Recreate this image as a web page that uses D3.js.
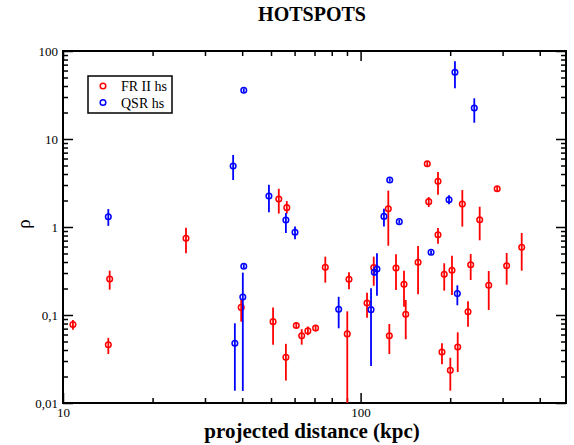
<!DOCTYPE html>
<html>
<head>
<meta charset="utf-8">
<script src="https://cdn.jsdelivr.net/npm/d3@7"></script>
<style>
  body { margin: 0; background: #fff; }
  text { font-family: "Liberation Serif", "Times New Roman", serif; }
</style>
</head>
<body>
<svg id="mysvg"></svg>
<script>
// FR II hotspots: distance (kpc), rho, error low, error high
const frX  = [10.8, 14.2, 14.35, 25.9, 39.7, 50.8, 53.1, 56.5, 56.1, 60.8, 63.4, 66.5, 70.6, 76.1, 90.2, 91.4, 105.1, 110.7, 123.9, 124.9, 131.5, 139.9, 141.8, 156, 167.5, 182, 169.4, 182, 187.7, 191, 200.2, 202.8, 212, 219.7, 229.6, 234.4, 251.3, 269.5, 287.7, 309.6, 347.8];
const frY  = [0.078, 0.046, 0.256, 0.744, 0.122, 0.084, 2.08, 1.66, 0.033, 0.076, 0.058, 0.066, 0.071, 0.348, 0.061, 0.255, 0.137, 0.345, 1.61, 0.058, 0.342, 0.223, 0.102, 0.397, 5.24, 3.31, 1.94, 0.818, 0.038, 0.29, 0.0235, 0.322, 0.0433, 1.82, 0.109, 0.373, 1.21, 0.2175, 2.72, 0.363, 0.588];
const frLo = [0.068, 0.036, 0.194, 0.502, 0.084, 0.046, 1.42, 1.42, 0.018, 0.071, 0.046, 0.059, 0.066, 0.233, 0.01, 0.196, 0.093, 0.215, 0.613, 0.036, 0.192, 0.124, 0.053, 0.172, 4.9, 2.33, 1.69, 0.646, 0.0275, 0.189, 0.0138, 0.169, 0.0225, 1.01, 0.0736, 0.25, 0.706, 0.114, 2.55, 0.221, 0.319];
const frHi = [0.088, 0.055, 0.319, 0.982, 0.148, 0.122, 2.72, 1.97, 0.047, 0.082, 0.069, 0.074, 0.076, 0.46, 0.11, 0.306, 0.179, 0.46, 2.59, 0.079, 0.489, 0.319, 0.148, 0.608, 5.6, 4.22, 2.19, 0.975, 0.0477, 0.387, 0.0327, 0.472, 0.0636, 2.63, 0.143, 0.493, 1.70, 0.316, 2.92, 0.507, 0.855];

// QSR hotspots
const qsrX  = [14.2, 37.3, 37.8, 40.2, 40.5, 40.5, 49.2, 56.1, 60.2, 84.4, 108.4, 111.2, 113.5, 119.8, 125.3, 134.9, 172.5, 198.2, 207.5, 211.4, 241];
const qsrY  = [1.31, 4.93, 0.0477, 0.160, 0.358, 35.8, 2.25, 1.20, 0.871, 0.116, 0.115, 0.306, 0.333, 1.32, 3.42, 1.15, 0.516, 2.04, 57.3, 0.175, 22.5];
const qsrLo = [1.03, 3.42, 0.0138, 0.0137, 0.34, 34, 1.47, 0.855, 0.725, 0.0706, 0.0263, 0.28, 0.166, 1.01, 3.27, 1.09, 0.49, 1.81, 37.7, 0.129, 15.3];
const qsrHi = [1.60, 6.58, 0.0805, 0.303, 0.378, 37.6, 3.03, 1.44, 1.01, 0.161, 0.201, 0.33, 0.502, 1.61, 3.57, 1.21, 0.54, 2.29, 76.3, 0.2175, 29.0];

const xTicks = [10, 100];
const xTickLabels = ["10", "100"];
const yTicks = [0.01, 0.1, 1, 10, 100];
const yTickLabels = ["0,01", "0,1", "1", "10", "100"];
const seriesNames = ["FR II hs", "QSR hs"];
const seriesColors = ["#ff0000", "#0000ff"];

const width = 574, height = 445;
const plot = { left: 63, right: 566, top: 51, bottom: 403 };

const svg = d3.select("#mysvg").attr("width", width).attr("height", height);

const x_Scale = d3.scaleLog().domain([10, 490]).range([plot.left, plot.right]);
const y_Scale = d3.scaleLog().domain([0.01, 100]).range([plot.bottom, plot.top]);

const xMinor = [];
[10, 100].forEach((d) => { for (let k = 2; k <= 9; k++) if (d * k < 490) xMinor.push(d * k); });
const yMinor = [];
[0.01, 0.1, 1, 10].forEach((d) => { for (let k = 2; k <= 9; k++) yMinor.push(d * k); });

const fmtX = (d) => xTickLabels[xTicks.indexOf(d)] || "";
const fmtY = (d) => yTickLabels[yTicks.indexOf(d)] || "";

function styleAxis(g) {
  g.select(".domain").remove();
  g.selectAll("line").attr("stroke", "#000").attr("stroke-width", 1.5);
  g.selectAll("text").attr("fill", "#000").style("font-size", "13px")
    .style("font-family", "'Liberation Serif', serif");
}

// bottom & top
svg.append("g").attr("transform", `translate(0,${plot.bottom})`)
  .call(d3.axisBottom(x_Scale).tickValues(xTicks).tickSize(-10).tickPadding(5).tickFormat(fmtX))
  .call(styleAxis);
svg.append("g").attr("transform", `translate(0,${plot.bottom})`)
  .call(d3.axisBottom(x_Scale).tickValues(xMinor).tickSize(-5).tickFormat(""))
  .call(styleAxis);
svg.append("g").attr("transform", `translate(0,${plot.top})`)
  .call(d3.axisTop(x_Scale).tickValues(xTicks).tickSize(-10).tickFormat(""))
  .call(styleAxis);
svg.append("g").attr("transform", `translate(0,${plot.top})`)
  .call(d3.axisTop(x_Scale).tickValues(xMinor).tickSize(-5).tickFormat(""))
  .call(styleAxis);

// left & right
svg.append("g").attr("transform", `translate(${plot.left},0)`)
  .call(d3.axisLeft(y_Scale).tickValues(yTicks).tickSize(-10).tickPadding(5).tickFormat(fmtY))
  .call(styleAxis);
svg.append("g").attr("transform", `translate(${plot.left},0)`)
  .call(d3.axisLeft(y_Scale).tickValues(yMinor).tickSize(-5).tickFormat(""))
  .call(styleAxis);
svg.append("g").attr("transform", `translate(${plot.right},0)`)
  .call(d3.axisRight(y_Scale).tickValues(yTicks).tickSize(-10).tickFormat(""))
  .call(styleAxis);
svg.append("g").attr("transform", `translate(${plot.right},0)`)
  .call(d3.axisRight(y_Scale).tickValues(yMinor).tickSize(-5).tickFormat(""))
  .call(styleAxis);

// frame
svg.append("rect").attr("x", plot.left).attr("y", plot.top)
  .attr("width", plot.right - plot.left).attr("height", plot.bottom - plot.top)
  .attr("fill", "none").attr("stroke", "#000").attr("stroke-width", 2);

// data
const series = [
  { x: frX, y: frY, lo: frLo, hi: frHi },
  { x: qsrX, y: qsrY, lo: qsrLo, hi: qsrHi },
].map((s, i) => ({
  color: seriesColors[i],
  pts: s.x.map((v, j) => ({ x: v, y: s.y[j], lo: Math.max(s.lo[j], 0.01), hi: Math.min(s.hi[j], 100) })),
}));

series.forEach((s, i) => {
  const g = svg.append("g").attr("class", "series-" + i);
  g.selectAll("line").data(s.pts).join("line")
    .attr("x1", (d) => x_Scale(d.x)).attr("x2", (d) => x_Scale(d.x))
    .attr("y1", (d) => y_Scale(d.lo)).attr("y2", (d) => y_Scale(d.hi))
    .attr("stroke", s.color).attr("stroke-width", 1.8);
  g.selectAll("circle").data(s.pts).join("circle")
    .attr("cx", (d) => x_Scale(d.x)).attr("cy", (d) => y_Scale(d.y))
    .attr("r", 2.8).attr("fill", "none").attr("stroke", s.color).attr("stroke-width", 1.5);
});

// legend
svg.append("rect").attr("x", 88).attr("y", 76).attr("width", 84).attr("height", 37)
  .attr("fill", "#fff").attr("stroke", "#000").attr("stroke-width", 1.5);
const legend = svg.selectAll(".legend").data(seriesNames).join("g")
  .attr("class", "legend").attr("transform", (_, i) => `translate(103, ${86 + i * 16.5})`);
legend.append("circle").attr("r", 2.8).attr("fill", "none").attr("stroke-width", 1.5)
  .attr("stroke", (_, i) => seriesColors[i]);
legend.append("text").attr("x", 18).attr("y", 5).style("font-size", "14px").text((d) => d);

// titles
svg.append("text").attr("x", 312).attr("y", 21).attr("text-anchor", "middle")
  .style("font-size", "20px").style("font-weight", "bold").text("HOTSPOTS");
svg.append("text").attr("x", 312).attr("y", 438).attr("text-anchor", "middle")
  .style("font-size", "21px").style("font-weight", "bold").text("projected distance (kpc)");
svg.append("text").attr("transform", "translate(30,224) rotate(-90)").attr("text-anchor", "middle")
  .style("font-size", "19px").text("ρ");
</script>
</body>
</html>
